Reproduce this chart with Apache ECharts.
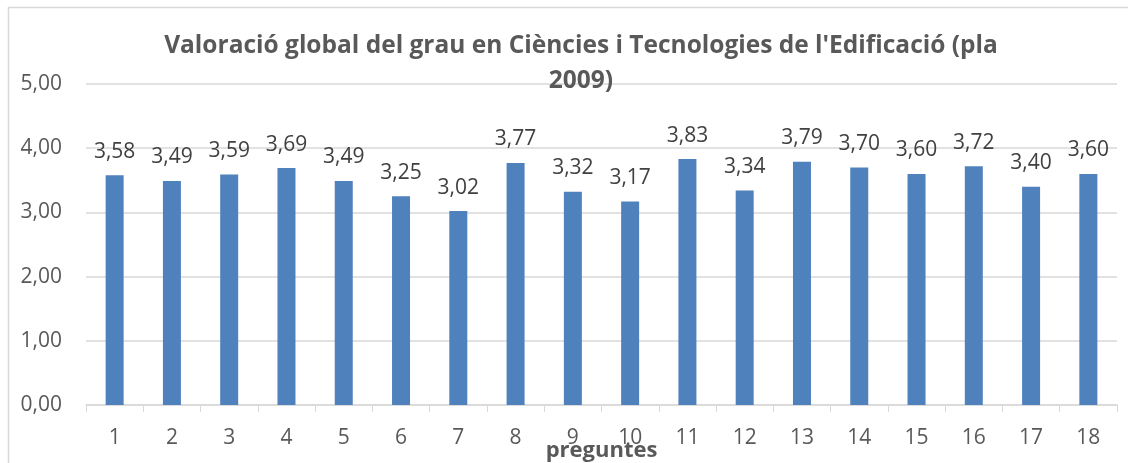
<!DOCTYPE html>
<html><head><meta charset="utf-8">
<script src="https://cdn.jsdelivr.net/npm/echarts@6/dist/echarts.min.js"></script>
<style>html,body{margin:0;padding:0;background:#fff;overflow:hidden}#c{width:1128px;height:463px}</style>
</head><body><div id="c"></div>
<script>
const categories = ['1','2','3','4','5','6','7','8','9','10','11','12','13','14','15','16','17','18'];
const values = [3.58,3.49,3.59,3.69,3.49,3.25,3.02,3.77,3.32,3.17,3.83,3.34,3.79,3.70,3.60,3.72,3.40,3.60];
const titleText = "Valoració global del grau en Ciències i Tecnologies de l'Edificació (pla\n2009)";
const xName = 'preguntes';
const fmt = v => Number(v).toFixed(2).replace('.', ',');
const FONT = 'Open Sans';
const chart = echarts.init(document.getElementById('c'));
chart.setOption({
  animation: false,
  graphic: [{type:'rect', shape:{x:8.5,y:7.5,width:1200,height:600}, style:{fill:null, stroke:'#D9D9D9', lineWidth:1.5}, silent:true}],
  title: {text: titleText, left: 576, textAlign:'center', top: 24,
    textStyle:{fontFamily:FONT, fontWeight:'bold', fontSize:24.5, color:'#595959', lineHeight:35}},
  grid: {left:86, right:11, top:84, bottom:58, containLabel:false, outerBoundsMode:'none'},
  xAxis: {type:'category', data:categories, name:xName, nameLocation:'middle', nameGap:35, nameMoveOverlap:false,
    nameTextStyle:{fontFamily:FONT, fontWeight:'bold', fontSize:22, color:'#595959'},
    axisLine:{lineStyle:{color:'#D9D9D9', width:1.5}},
    axisTick:{show:true, alignWithLabel:false, length:7, lineStyle:{color:'#D9D9D9'}},
    axisLabel:{fontFamily:FONT, fontSize:21, color:'#595959', margin:23}},
  yAxis: {type:'value', min:0, max:5, interval:1,
    axisLine:{show:false}, axisTick:{show:false},
    splitLine:{lineStyle:{color:'#D9D9D9', width:1.5}},
    axisLabel:{fontFamily:FONT, fontSize:21, color:'#595959', margin:24, formatter: fmt}},
  series: [{type:'bar', data:values, barWidth:18, itemStyle:{color:'#4F81BD'},
    label:{show:true, position:'top', distance:13, fontFamily:FONT, fontSize:21, color:'#404040', formatter: p => fmt(p.value)}}]
});
</script></body></html>
